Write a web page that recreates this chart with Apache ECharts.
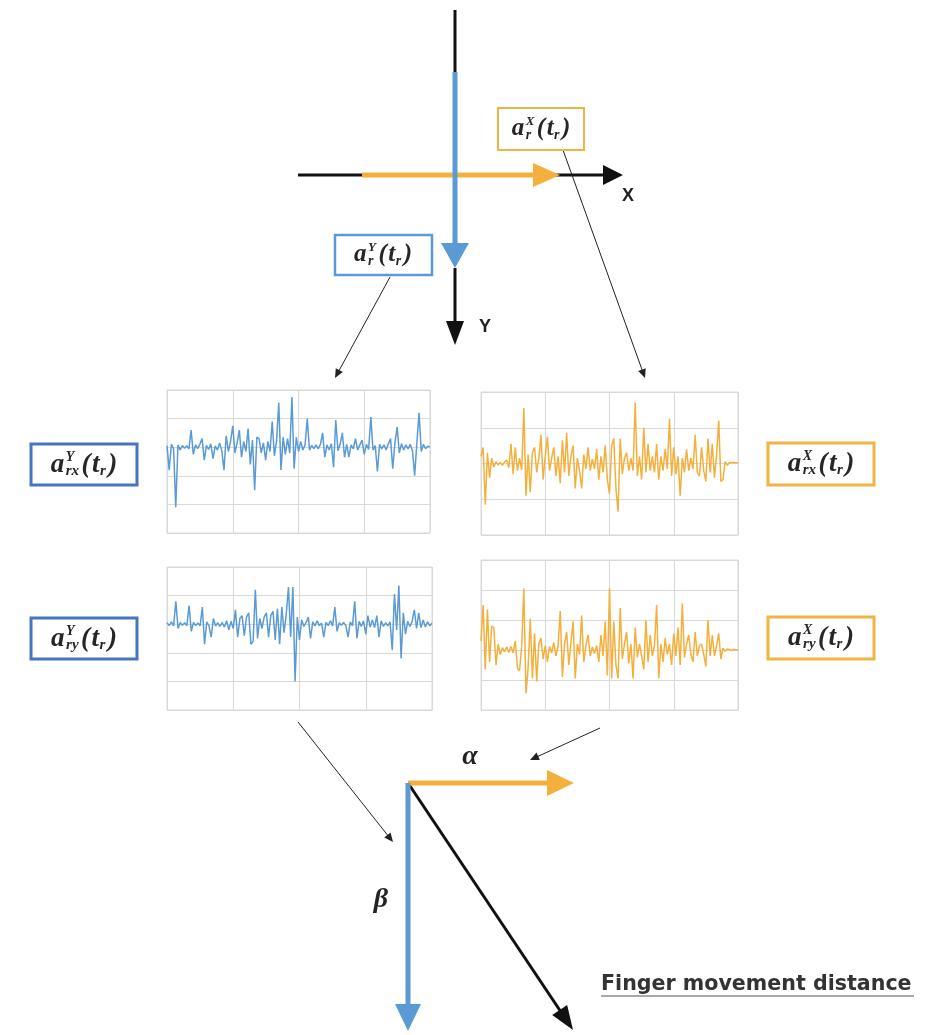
<!DOCTYPE html>
<html><head><meta charset="utf-8">
<script src="https://cdn.jsdelivr.net/npm/echarts@6/dist/echarts.min.js"></script>
<style>html,body{margin:0;padding:0;background:#fff}#c{width:938px;height:1035px}</style>
</head><body><div id="c"></div>
<script>
// a_rx^Y(t_r) – blue, top-left panel
const rxY = [
 0.05,-0.8,0.1,-0.05,-2.1,0.08,-0.1,0.06,-0.04,0.05,
 -0.06,0.6,-0.25,0.08,-0.05,0.1,0.3,-0.45,0.06,-0.08,
 0.12,-0.4,0.05,-0.1,0.15,-0.12,-0.8,0.4,-0.15,0.2,
 0.75,-0.2,0.15,0.6,-0.35,0.2,-0.15,0.65,-0.6,0.25,
 -1.5,0.35,0.3,-0.2,0.15,-0.45,0.2,-0.15,0.9,-0.3,
 0.25,1.55,-0.8,0.35,-0.25,0.3,-0.2,1.75,-0.75,0.35,
 -0.15,0.2,-0.1,0.08,1.0,-0.1,0.06,-0.05,0.08,-0.06,
 0.1,0.5,-0.35,0.08,-0.1,0.12,-0.7,0.95,-0.12,0.1,
 0.5,-0.35,0.1,-0.35,0.08,-0.06,0.3,-0.1,0.08,0.25,
 -0.25,0.1,-0.08,1.05,-0.1,0.06,-0.85,0.1,-0.06,0.08,
 -0.1,0.12,0.3,-0.75,0.15,0.7,-0.2,0.12,-0.1,0.08,
 -0.06,0.1,-0.12,-1.0,0.15,1.2,-0.15,0.1,-0.05,0.03,0.02
];
// a_rx^X(t_r) – orange, top-right panel
const rxX = [
 0.2,0.45,-1.15,0.3,-0.4,0.15,-0.1,0.05,-0.04,0.03,
 -0.05,0.04,0.1,-0.12,0.55,-0.3,0.45,-0.2,0.15,-0.18,
 1.55,-0.9,0.25,-0.8,0.3,0.45,-0.25,0.15,0.8,-0.45,
 0.2,0.75,-0.2,0.15,0.45,-0.35,0.2,-0.55,0.65,-0.25,
 0.85,-0.35,0.2,0.5,-0.7,0.15,-0.2,-0.7,0.25,-0.15,
 0.45,-0.2,0.12,-0.15,0.4,-0.45,0.2,-0.25,0.5,-0.45,
 -0.85,0.5,0.7,-0.7,-1.35,0.7,-0.3,0.15,0.3,-0.2,
 0.15,-0.2,1.7,-0.35,0.2,-0.45,1.0,-0.25,0.55,-0.2,
 0.2,-0.25,0.55,-0.45,0.2,-0.2,0.4,-0.15,1.25,-0.35,
 0.45,-0.3,0.2,-0.9,0.15,-0.25,0.4,-0.2,0.15,-0.15,
 0.8,-0.25,-0.35,0.45,-0.2,-0.5,0.7,-0.25,0.55,-0.4,
 0.25,1.2,-0.5,-0.45,0.05,-0.05,0.03,0.02,0.03,0.02,0.02
];
// a_ry^Y(t_r) – blue, bottom-left panel
const ryY = [
 0.05,-0.05,0.08,-0.06,0.8,-0.15,0.06,-0.04,0.05,-0.05,
 0.65,-0.25,0.06,-0.05,0.04,-0.06,0.6,-0.7,0.08,-0.05,
 -0.45,0.2,-0.06,0.05,-0.08,0.06,-0.1,0.12,-0.2,0.1,
 -0.15,0.5,-0.45,0.2,0.3,-0.4,0.25,0.4,-0.7,-0.6,
 1.2,-0.5,0.2,-0.15,0.25,0.4,-0.45,0.3,0.45,-0.55,
 0.55,-0.7,0.6,-0.3,0.35,1.3,-0.45,1.3,-2.0,0.25,
 -0.55,0.15,-0.08,0.06,0.25,-0.5,0.08,-0.06,0.12,-0.05,
 0.04,-0.45,0.06,-0.05,0.12,-0.06,0.6,-0.25,0.05,-0.04,
 0.06,-0.05,-0.45,0.08,-0.06,0.8,-0.5,0.1,-0.08,0.12,
 -0.35,0.3,-0.1,0.15,-0.12,0.3,-0.45,0.12,-0.08,0.05,
 -0.06,0.08,-0.9,1.05,-0.2,1.35,-1.2,0.4,-0.35,0.1,
 -0.08,0.1,0.5,-0.15,0.4,-0.12,0.15,-0.1,0.08,-0.05,0.03
];
// a_ry^X(t_r) – orange, bottom-right panel
const ryX = [
 0.3,1.5,-0.65,1.35,-0.4,0.8,0.75,-0.5,0.2,-0.15,
 0.08,-0.06,0.1,-0.08,0.12,-0.1,0.3,-0.6,-0.7,0.15,
 2.05,-1.45,-0.6,1.05,-0.95,0.55,-1.05,0.2,0.4,-0.3,
 0.15,-0.4,0.12,-0.1,0.25,-0.2,0.15,1.3,-0.9,0.2,
 0.6,-0.5,0.25,0.95,-0.95,0.2,-0.15,1.15,-0.4,0.15,
 0.5,-0.2,0.1,-0.12,0.15,-0.4,0.5,-0.2,0.95,-0.85,
 2.05,-0.95,0.95,-0.5,-0.95,1.4,-0.3,0.2,0.6,-0.45,
 0.2,-0.95,0.75,-0.25,0.2,-0.2,-0.65,1.0,-0.4,0.5,
 -0.2,0.15,1.5,-0.95,0.2,-0.4,0.4,-0.15,0.2,-0.5,
 0.55,-0.2,0.75,-0.5,1.55,-0.25,0.2,0.5,-0.15,-0.4,
 0.6,-0.2,0.15,0.2,-0.15,-0.55,1.0,-0.2,0.5,-0.2,
 0.15,0.55,-0.3,0.06,-0.04,0.03,0.02,-0.02,0.02,0.01,0.01
];
const yRanges = [[-3,2],[-2,2],[-3,2],[-2,3]];
const panelNames = ['a_rx^Y','a_rx^X','a_ry^Y','a_ry^X'];

const BLUE = '#5b9bd5', ORANGE = '#f4b03c', BOXBLUE = '#4a74bd', BOXOR = '#f0b443', GRIDC = '#d9d9d9';
const panels = [
  {data: rxY, color: BLUE,   left:167, top:390, width:263, height:143},
  {data: rxX, color: ORANGE, left:481, top:392, width:257, height:143},
  {data: ryY, color: BLUE,   left:167, top:567, width:265, height:143},
  {data: ryX, color: ORANGE, left:481, top:560, width:257, height:150}
];

const ctx = document.createElement('canvas').getContext('2d');
function tw(t, size, italic){ ctx.font = (italic?'italic ':'') + 'bold ' + size + 'px "Liberation Serif"'; return ctx.measureText(t).width; }

function ln(x1,y1,x2,y2,color,w,z){ return {type:'line',shape:{x1,y1,x2,y2},style:{stroke:color,lineWidth:w},z:z||10}; }
function head(x1,y1,x2,y2,color,len,hw,z){
  const dx=x2-x1, dy=y2-y1, L=Math.hypot(dx,dy), ux=dx/L, uy=dy/L;
  const bx=x2-ux*len, by=y2-uy*len;
  return {type:'polygon',shape:{points:[[x2,y2],[bx-uy*hw,by+ux*hw],[bx+uy*hw,by-ux*hw]]},style:{fill:color},z:z||11};
}
function arrow(x1,y1,x2,y2,color,w,len,hw,z){
  const L=Math.hypot(x2-x1,y2-y1), t=(L-len*0.8)/L;
  return [ln(x1,y1,x1+(x2-x1)*t,y1+(y2-y1)*t,color,w,z), head(x1,y1,x2,y2,color,len,hw,(z||10)+1)];
}
function txt(x,y,s,size,italic,align,vAlign,color,family,weight){
  return {type:'text',x:x,y:y,z:20,style:{text:s,fontSize:size,fontStyle:italic?'italic':'normal',fontWeight:weight||'bold',
    fontFamily:family||'Liberation Serif',fill:color||'#262626',align:align||'left',verticalAlign:vAlign||'middle'}};
}
function mathLabel(cx,cy,sup,sub,big,small){
  const gap=1.5;
  const wa=tw('a',big,true)+gap, wsup=tw(sup,small-1,true), wsub=tw(sub,small,true);
  const wm=Math.max(wsup,wsub)+gap+1, wpo=tw('(',big,true)+gap, wt=tw('t',big,true)+0.5, wr=tw('r',small,true)+gap+1, wp=tw(')',big,true);
  const W=wa+wm+wpo+wt+wr+wp; let x=cx-W/2; const out=[];
  out.push(txt(x,cy,'a',big,true)); x+=wa;
  out.push(txt(x,cy-big*0.3,sup,small-1,true));
  out.push(txt(x,cy+big*0.24,sub,small,true)); x+=wm;
  out.push(txt(x,cy,'(',big,true)); x+=wpo;
  out.push(txt(x,cy,'t',big,true)); x+=wt;
  out.push(txt(x,cy+big*0.24,'r',small,true)); x+=wr;
  out.push(txt(x,cy,')',big,true));
  return out;
}
function box(x,y,w,h,color,lw){ return {type:'rect',shape:{x,y,width:w,height:h},style:{fill:'#fff',stroke:color,lineWidth:lw},z:15}; }

let g = [];
// top coordinate system
g.push(ln(298,175,606,175,'#111',3,5)); g.push(head(298,175,623,175,'#111',20,10,6));
g.push(...arrow(362,175,560,175,ORANGE,5,27,12,7));
g.push(ln(455,10,455,72,'#111',3,5));
g.push(ln(455,268,455,325,'#111',3,5)); g.push(head(455,268,455,345,'#111',24,9,6));
g.push(...arrow(455,72,455,268,BLUE,5,25,14,8));
g.push(txt(628,196,'X',18,false,'center','middle','#222','Liberation Sans'));
g.push(txt(485,327,'Y',18,false,'center','middle','#222','Liberation Sans'));
// top labels
g.push(box(498,108,86,42,BOXOR,2)); g.push(...mathLabel(541,129,'X','r',25,14));
g.push(box(335,235,97,40,BLUE,2.5)); g.push(...mathLabel(383,255,'Y','r',25,14));
// thin arrows
g.push(...arrow(390,277,335,378,'#222',1,9,4));
g.push(...arrow(563,150,645,378,'#222',1,9,4));
g.push(...arrow(298,722,393,842,'#222',1,9,4));
g.push(...arrow(600,728,530,760,'#222',1,9,4));
// side labels
g.push(box(31,444,106,41,BOXBLUE,3)); g.push(...mathLabel(84,465,'Y','rx',27,15));
g.push(box(31,618,106,41,BOXBLUE,3)); g.push(...mathLabel(84,639,'Y','ry',27,15));
g.push(box(768,443,106,42,BOXOR,3)); g.push(...mathLabel(821,464,'X','rx',27,15));
g.push(box(768,617,106,42,BOXOR,3)); g.push(...mathLabel(821,638,'X','ry',27,15));
// bottom vectors
g.push(...arrow(408,783,573,1030,'#111',3,24,9,5));
g.push(...arrow(408,783,574,783,ORANGE,5,27,13,7));
g.push(...arrow(408,783,408,1031,BLUE,5,27,13,8));
g.push(txt(470,757,'α',28,true,'center','middle','#222','Liberation Serif'));
g.push(txt(381,900,'β',28,true,'center','middle','#222','Liberation Serif'));
g.push(txt(601,985,'Finger movement distance',20.6,false,'left','middle','#333','DejaVu Sans'));
g.push(ln(601,996,914,996,'#555',1.2,20));

const option = {
  animation:false,
  backgroundColor:'#fff',
  grid: panels.map(p=>({left:p.left,top:p.top,width:p.width,height:p.height,show:true,borderColor:GRIDC,borderWidth:1,backgroundColor:'#fff'})),
  xAxis: panels.map((p,i)=>({type:'value',gridIndex:i,min:0,max:120,interval:30,axisLine:{show:false},axisTick:{show:false},axisLabel:{show:false},splitLine:{show:true,lineStyle:{color:GRIDC,width:1}}})),
  yAxis: panels.map((p,i)=>({type:'value',gridIndex:i,min:yRanges[i][0],max:yRanges[i][1],interval:1,axisLine:{show:false},axisTick:{show:false},axisLabel:{show:false},splitLine:{show:true,lineStyle:{color:GRIDC,width:1}}})),
  series: panels.map((p,i)=>({name:panelNames[i],type:'line',xAxisIndex:i,yAxisIndex:i,symbol:'none',silent:true,
    lineStyle:{color:p.color,width:1.5},data:p.data.map((v,k)=>[k,v])})),
  graphic: g
};
const chart = echarts.init(document.getElementById('c'), null, {renderer:'canvas'});
chart.setOption(option);
</script>
</body></html>
